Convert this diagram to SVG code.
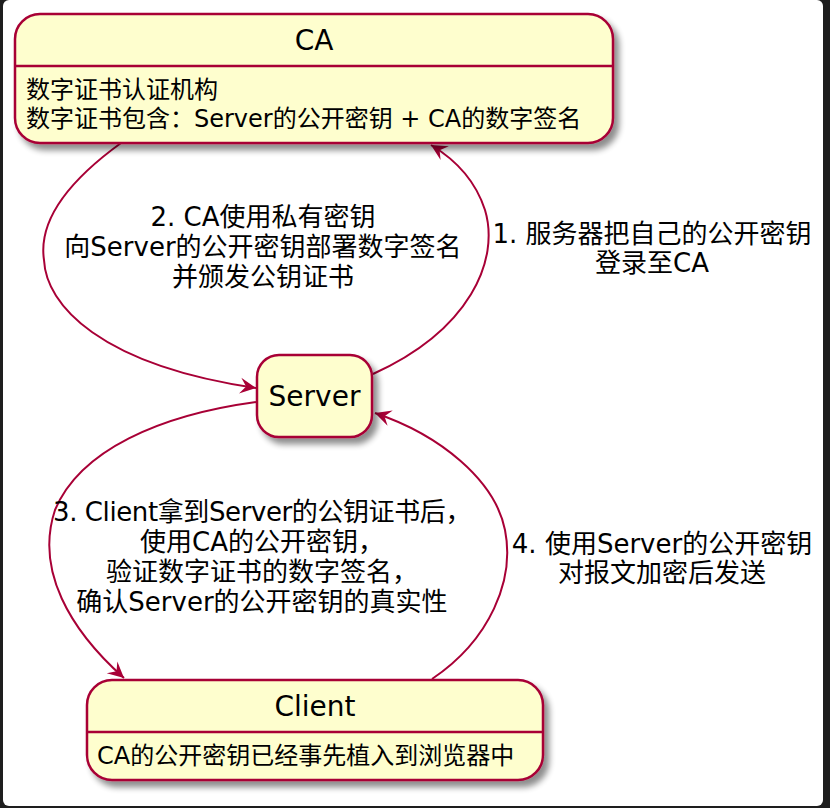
<svg xmlns="http://www.w3.org/2000/svg" width="830" height="808" viewBox="0 0 830 808">
<defs>
<style>
.bg{fill:#1e1e1e}
.page{fill:#ffffff}
.node{fill:#FEFECE;stroke:#A80036;stroke-width:2.5}
.div{stroke:#A80036;stroke-width:2.5}
.edge{fill:none;stroke:#A80036;stroke-width:2}
.title{font-family:"DejaVu Sans","Noto Sans CJK SC",sans-serif;font-size:28px;fill:#000;text-anchor:middle}
.body{font-family:"DejaVu Sans","Noto Sans CJK SC",sans-serif;font-size:24px;fill:#000}
.lbl{font-family:"DejaVu Sans","Noto Sans CJK SC",sans-serif;font-size:26px;fill:#000;text-anchor:middle}
.tight{letter-spacing:-0.4px}
</style>
<filter id="sh" x="-10%" y="-10%" width="130%" height="140%">
<feGaussianBlur in="SourceAlpha" stdDeviation="3"/>
<feOffset dx="5" dy="6" result="b"/>
<feComponentTransfer><feFuncA type="linear" slope="0.45"/></feComponentTransfer>
<feMerge><feMergeNode/><feMergeNode in="SourceGraphic"/></feMerge>
</filter>
<marker id="ah" markerUnits="userSpaceOnUse" markerWidth="20" markerHeight="20" viewBox="-18 -10 20 20" refX="0" refY="0" orient="auto">
<path d="M0,0 L-16,-8 L-10,0 L-16,8 Z" fill="#A80036"/>
</marker>
</defs>
<rect class="bg" x="0" y="0" width="830" height="808"/>
<rect class="page" x="3" y="0" width="820" height="806" rx="6"/>

<g id="connectors">
<path id="e1" class="edge" d="M373,374 C470,330 500,260 485,210 C476,182 456,160 431,145" marker-end="url(#ah)"/>
<path id="e2" class="edge" d="M121,143 C70,180 38,220 44,260 C46,305 100,365 256,388" marker-end="url(#ah)"/>
<path id="e3" class="edge" d="M256,402 C160,415 80,450 55,510 C35,570 70,630 124,678" marker-end="url(#ah)"/>
<path id="e4" class="edge" d="M432,679 C490,640 515,580 505,530 C495,480 440,435 375,413" marker-end="url(#ah)"/>
<g id="labels">
<text class="lbl" x="652" y="243">1. 服务器把自己的公开密钥</text>
<text class="lbl" x="652" y="272">登录至CA</text>
<text class="lbl" x="263" y="226">2. CA使用私有密钥</text>
<text class="lbl" x="263" y="256">向Server的公开密钥部署数字签名</text>
<text class="lbl" x="263" y="286">并颁发公钥证书</text>
<text class="lbl tight" x="262" y="521">3. Client拿到Server的公钥证书后，</text>
<text class="lbl" x="262" y="551">使用CA的公开密钥，</text>
<text class="lbl" x="262" y="581">验证数字证书的数字签名，</text>
<text class="lbl" x="262" y="611">确认Server的公开密钥的真实性</text>
<text class="lbl" x="662" y="553">4. 使用Server的公开密钥</text>
<text class="lbl" x="662" y="582">对报文加密后发送</text>
</g>
</g>

<g id="CA">
<rect class="node" x="15" y="14" width="598" height="129" rx="25" filter="url(#sh)"/>
<line class="div" x1="15" y1="66" x2="613" y2="66"/>
<text class="title" x="314" y="50">CA</text>
<text class="body" x="26" y="98">数字证书认证机构</text>
<text class="body" x="26" y="127">数字证书包含：Server的公开密钥 + CA的数字签名</text>
</g>

<g id="Server">
<rect class="node" x="257" y="355" width="115" height="82" rx="22" filter="url(#sh)"/>
<text class="title" x="314.5" y="406">Server</text>
</g>

<g id="Client">
<rect class="node" x="87" y="680" width="456" height="100" rx="25" filter="url(#sh)"/>
<line class="div" x1="87" y1="732" x2="543" y2="732"/>
<text class="title" x="315" y="716">Client</text>
<text class="body" x="97" y="764">CA的公开密钥已经事先植入到浏览器中</text>
</g>
</svg>
